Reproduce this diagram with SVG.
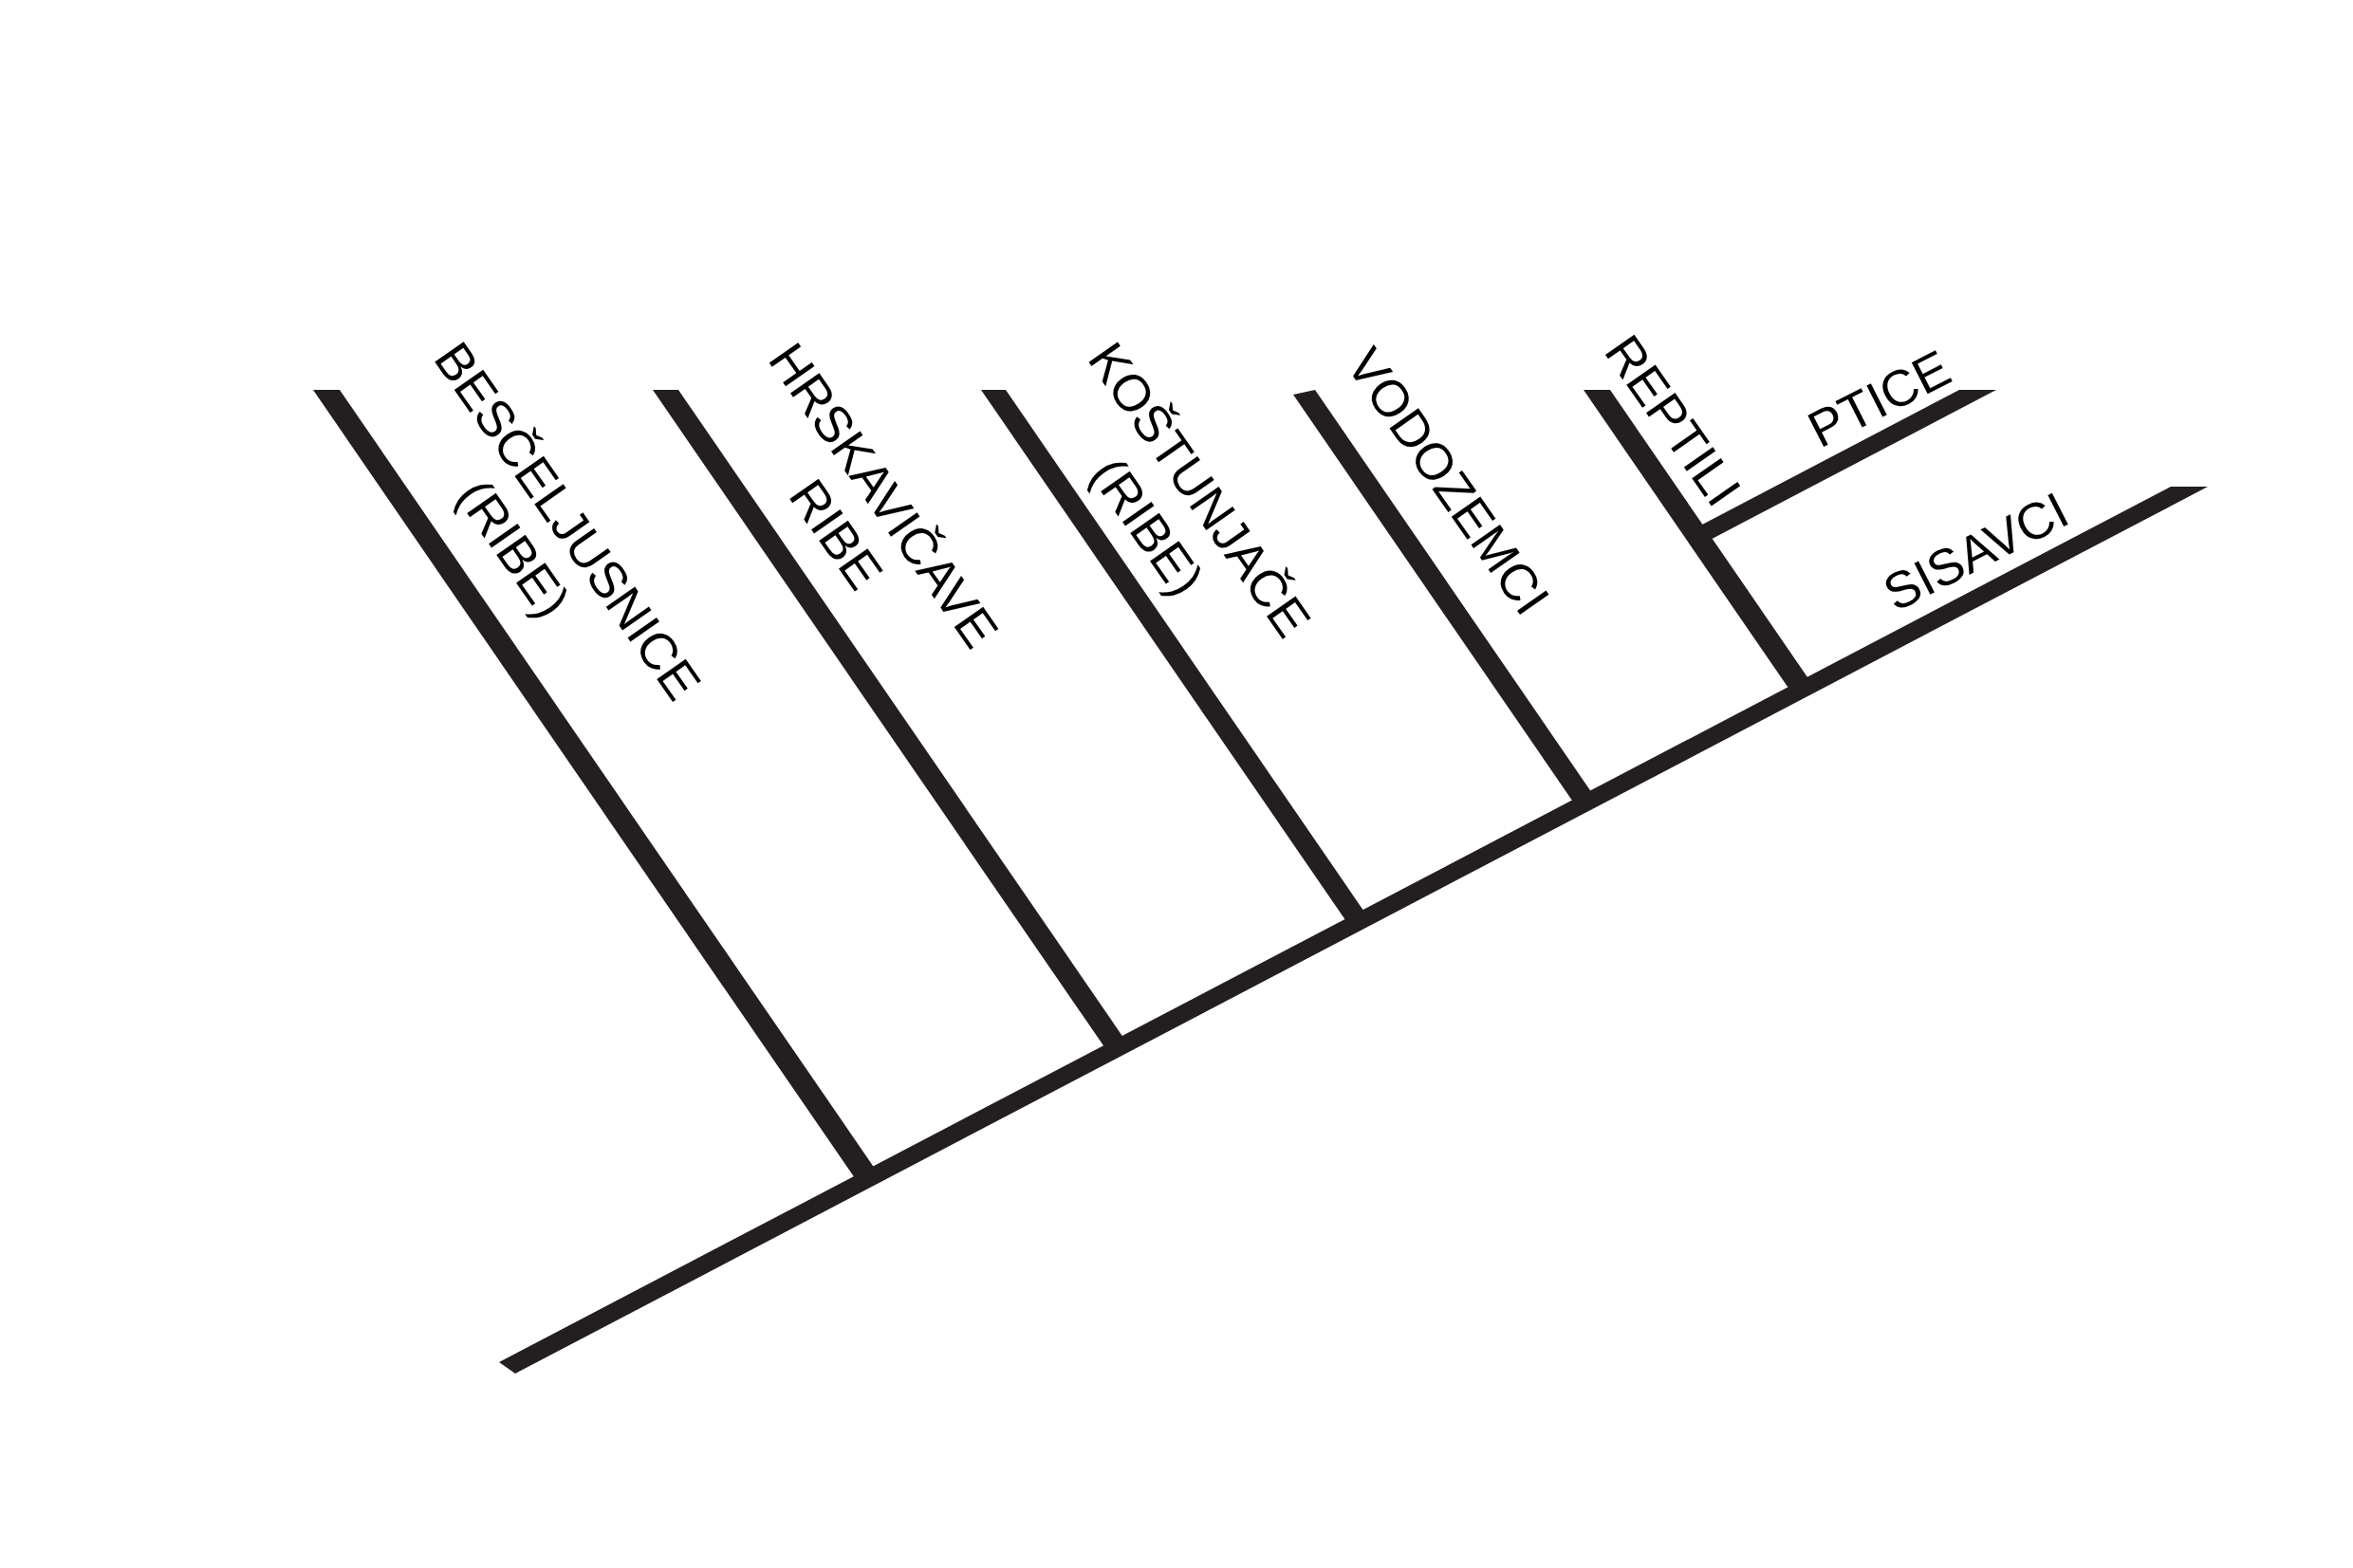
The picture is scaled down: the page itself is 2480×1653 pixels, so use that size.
<svg xmlns="http://www.w3.org/2000/svg" width="2480" height="1653" viewBox="0 0 2480 1653">
<style>
.band{fill:#231f20;stroke:none}
.lbl{font-family:"Liberation Sans",Arial,Helvetica,sans-serif;font-size:54px;fill:#000;text-anchor:middle}
</style>
<rect x="0" y="0" width="2480" height="1653" fill="#ffffff"/>
<g id="connectors">
<polygon class="band" points="526,1436 2288,513 2327,513 543,1448"/>
<polygon class="band" points="330,411 358,411 925.7,1237.3 905.1,1248.1"/>
<polygon class="band" points="688,411 715,411 1188.1,1099.7 1168.3,1110.1"/>
<polygon class="band" points="1034,411 1060,411 1441.8,966.8 1422.7,976.8"/>
<polygon class="band" points="1363,416 1386,411 1681.5,841.2 1662.2,851.4"/>
<polygon class="band" points="1669,411 1697,411 1910.2,721.4 1889.6,732.1"/>
<polygon class="band" points="2065,411 2104,411 1794.4,573.2 1784.1,558.2"/>
</g>
<g id="node-bescseljusnice">
<text class="lbl" transform="translate(583,560) rotate(55)">BESČELJUSNICE</text>
<text class="lbl" transform="translate(526,589) rotate(55)">(RIBE)</text>
</g>
<g id="node-hrskavicave">
<text class="lbl" transform="translate(916,533) rotate(55)">HRSKAVIČAVE</text>
<text class="lbl" transform="translate(866,574) rotate(55)">RIBE</text>
</g>
<g id="node-kostunjace">
<text class="lbl" transform="translate(1249,527) rotate(55)">KOŠTUNJAČE</text>
<text class="lbl" transform="translate(1194,566) rotate(55)">(RIBE)</text>
</g>
<g id="node-vodozemci">
<text class="lbl" transform="translate(1511,518) rotate(55)">VODOZEMCI</text>
</g>
<g id="node-reptili">
<text class="lbl" transform="translate(1748,454) rotate(55)">REPTILI</text>
</g>
<g id="node-ptice">
<text class="lbl" transform="translate(1989,437) rotate(-27)">PTICE</text>
</g>
<g id="node-sisavci">
<text class="lbl" transform="translate(2091,598) rotate(-27)">SISAVCI</text>
</g>
</svg>
